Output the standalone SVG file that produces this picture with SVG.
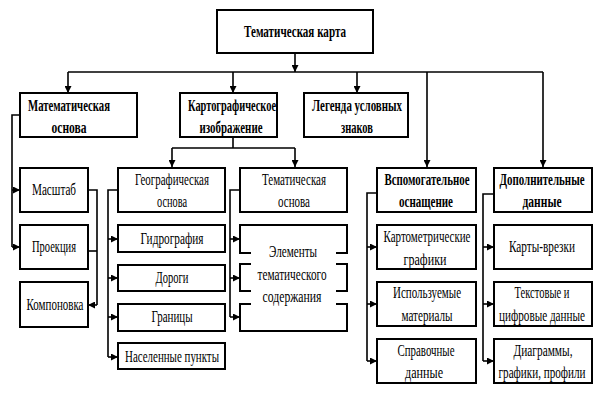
<svg xmlns="http://www.w3.org/2000/svg" width="601" height="404" viewBox="0 0 601 404">
<style>
.box{fill:#fff;stroke:#000;stroke-width:2}
.ln{fill:none;stroke:#000;stroke-width:1.6}
.arr{fill:none;stroke:#000;stroke-width:1.6;marker-end:url(#ah)}
text{font-family:"Liberation Serif","DejaVu Serif",serif;font-size:17px;fill:#000;text-anchor:middle}
.b{font-weight:bold}
</style>
<defs>
<marker id="ah" viewBox="0 0 10 10" refX="10" refY="5" markerWidth="8" markerHeight="7" markerUnits="userSpaceOnUse" orient="auto">
<path d="M0,0 L10,5 L0,10 z" fill="#000"/>
</marker>
</defs>
<rect width="601" height="404" fill="#fff"/>
<g id="connectors">
<path class="arr" d="M295,53 V72"/>
<path class="ln" d="M68,72 H543"/>
<path class="arr" d="M68,72 V93"/>
<path class="arr" d="M233,72 V93"/>
<path class="arr" d="M357,72 V93"/>
<path class="arr" d="M427,72 V167"/>
<path class="arr" d="M543,72 V167"/>
<path class="ln" d="M20,115 H12 V247"/>
<path class="arr" d="M12,190 H20"/>
<path class="arr" d="M12,247 H20"/>
<path class="ln" d="M88,190 H97 V305"/>
<path class="ln" d="M88,251 H97"/>
<path class="arr" d="M97,305 H88"/>
<path class="ln" d="M233,137 V148 M172,148 H295"/>
<path class="arr" d="M172,148 V167"/>
<path class="arr" d="M295,148 V167"/>
<path class="ln" d="M118,190 H108 V357"/>
<path class="arr" d="M108,239 H118"/>
<path class="arr" d="M108,278 H118"/>
<path class="arr" d="M108,317 H118"/>
<path class="arr" d="M108,357 H118"/>
<path class="ln" d="M240,190 H230 V317"/>
<path class="arr" d="M230,239 H240"/>
<path class="arr" d="M230,278 H240"/>
<path class="arr" d="M230,317 H240"/>
<path class="ln" d="M377,193 H367 V361"/>
<path class="arr" d="M367,247 H377"/>
<path class="arr" d="M367,304 H377"/>
<path class="arr" d="M367,361 H377"/>
<path class="ln" d="M494,194 H483 V361"/>
<path class="arr" d="M483,247 H494"/>
<path class="arr" d="M483,304 H494"/>
<path class="arr" d="M483,361 H494"/>
</g>
<g id="n-top"><rect class="box" x="217" y="10" width="156" height="43"/><text class="b" transform="matrix(0.68,0,0,1,295,37)" textLength="150" lengthAdjust="spacingAndGlyphs">Тематическая карта</text></g>
<g id="n-math"><rect class="box" x="20" y="93" width="117" height="44"/><text class="b" transform="matrix(0.68,0,0,1,69,111)" textLength="120.6" lengthAdjust="spacingAndGlyphs">Математическая</text><text class="b" transform="matrix(0.68,0,0,1,69,133)" textLength="51.5" lengthAdjust="spacingAndGlyphs">основа</text></g>
<g id="n-kart"><rect class="box" x="180" y="93" width="97" height="44"/><text class="b" transform="matrix(0.68,0,0,1,232,111)" textLength="129.4" lengthAdjust="spacingAndGlyphs">Картографическое</text><text class="b" transform="matrix(0.68,0,0,1,231,133)" textLength="92.6" lengthAdjust="spacingAndGlyphs">изображение</text></g>
<g id="n-leg"><rect class="box" x="304" y="93" width="104" height="44"/><text class="b" transform="matrix(0.68,0,0,1,357,111)" textLength="132.4" lengthAdjust="spacingAndGlyphs">Легенда условных</text><text class="b" transform="matrix(0.68,0,0,1,357,133)" textLength="47" lengthAdjust="spacingAndGlyphs">знаков</text></g>
<g id="n-masht"><rect class="box" x="20" y="168" width="68" height="44"/><text transform="matrix(0.68,0,0,1,54,195)" textLength="64.7" lengthAdjust="spacingAndGlyphs">Масштаб</text></g>
<g id="n-proek"><rect class="box" x="20" y="225" width="68" height="44"/><text transform="matrix(0.68,0,0,1,54,252)" textLength="64.7" lengthAdjust="spacingAndGlyphs">Проекция</text></g>
<g id="n-komp"><rect class="box" x="20" y="282" width="68" height="45"/><text transform="matrix(0.68,0,0,1,55,310)" textLength="83.8" lengthAdjust="spacingAndGlyphs">Компоновка</text></g>
<g id="n-geo"><rect class="box" x="118" y="168" width="107" height="44"/><text transform="matrix(0.68,0,0,1,172,185)" textLength="108.8" lengthAdjust="spacingAndGlyphs">Географическая</text><text transform="matrix(0.68,0,0,1,172,207)" textLength="44.1" lengthAdjust="spacingAndGlyphs">основа</text></g>
<g id="n-gidro"><rect class="box" x="118" y="225" width="107" height="27"/><text transform="matrix(0.68,0,0,1,172,244)" textLength="92.6" lengthAdjust="spacingAndGlyphs">Гидрография</text></g>
<g id="n-dorogi"><rect class="box" x="118" y="265" width="107" height="26"/><text transform="matrix(0.68,0,0,1,172,283)" textLength="48.5" lengthAdjust="spacingAndGlyphs">Дороги</text></g>
<g id="n-granicy"><rect class="box" x="118" y="304" width="107" height="27"/><text transform="matrix(0.68,0,0,1,172,322)" textLength="60.3" lengthAdjust="spacingAndGlyphs">Границы</text></g>
<g id="n-nasel"><rect class="box" x="118" y="343" width="107" height="26"/><text transform="matrix(0.68,0,0,1,172,362)" textLength="138.2" lengthAdjust="spacingAndGlyphs">Населенные пункты</text></g>
<g id="n-tem"><rect class="box" x="240" y="168" width="107" height="44"/><text transform="matrix(0.68,0,0,1,294,185)" textLength="94.1" lengthAdjust="spacingAndGlyphs">Тематическая</text><text transform="matrix(0.68,0,0,1,294,207)" textLength="47" lengthAdjust="spacingAndGlyphs">основа</text></g>
<g id="n-elem">
<rect class="box" x="240" y="225" width="107" height="28"/>
<rect class="box" x="240" y="264" width="107" height="27"/>
<rect class="box" x="240" y="304" width="107" height="27"/>
<rect x="251" y="252" width="85" height="53" fill="#fff"/>
<text transform="matrix(0.68,0,0,1,293,257)" textLength="70.6" lengthAdjust="spacingAndGlyphs">Элементы</text>
<text transform="matrix(0.68,0,0,1,292,280)" textLength="101.5" lengthAdjust="spacingAndGlyphs">тематического</text>
<text transform="matrix(0.68,0,0,1,292,302)" textLength="86.8" lengthAdjust="spacingAndGlyphs">содержания</text>
</g>
<g id="n-vsp"><rect class="box" x="377" y="168" width="99" height="44"/><text class="b" transform="matrix(0.68,0,0,1,427,185)" textLength="125" lengthAdjust="spacingAndGlyphs">Вспомогательное</text><text class="b" transform="matrix(0.68,0,0,1,426,207)" textLength="79.4" lengthAdjust="spacingAndGlyphs">оснащение</text></g>
<g id="n-kartom"><rect class="box" x="377" y="225" width="99" height="44"/><text transform="matrix(0.68,0,0,1,427,242)" textLength="127.9" lengthAdjust="spacingAndGlyphs">Картометрические</text><text transform="matrix(0.68,0,0,1,425,265)" textLength="63.2" lengthAdjust="spacingAndGlyphs">графики</text></g>
<g id="n-ispol"><rect class="box" x="377" y="282" width="99" height="44"/><text transform="matrix(0.68,0,0,1,427,298)" textLength="100" lengthAdjust="spacingAndGlyphs">Используемые</text><text transform="matrix(0.68,0,0,1,427,321)" textLength="75" lengthAdjust="spacingAndGlyphs">материалы</text></g>
<g id="n-sprav"><rect class="box" x="377" y="339" width="99" height="44"/><text transform="matrix(0.68,0,0,1,426,356)" textLength="83.8" lengthAdjust="spacingAndGlyphs">Справочные</text><text transform="matrix(0.68,0,0,1,424,378)" textLength="55.9" lengthAdjust="spacingAndGlyphs">данные</text></g>
<g id="n-dop"><rect class="box" x="494" y="168" width="98" height="44"/><text class="b" transform="matrix(0.68,0,0,1,542,185)" textLength="125" lengthAdjust="spacingAndGlyphs">Дополнительные</text><text class="b" transform="matrix(0.68,0,0,1,542,207)" textLength="57.4" lengthAdjust="spacingAndGlyphs">данные</text></g>
<g id="n-vrezki"><rect class="box" x="494" y="225" width="98" height="44"/><text transform="matrix(0.68,0,0,1,542,252)" textLength="97.1" lengthAdjust="spacingAndGlyphs">Карты-врезки</text></g>
<g id="n-tekst"><rect class="box" x="494" y="282" width="98" height="44"/><text transform="matrix(0.68,0,0,1,542,298)" textLength="80.9" lengthAdjust="spacingAndGlyphs">Текстовые и</text><text transform="matrix(0.68,0,0,1,542,321)" textLength="126.5" lengthAdjust="spacingAndGlyphs">цифровые данные</text></g>
<g id="n-diagr"><rect class="box" x="494" y="339" width="98" height="44"/><text transform="matrix(0.68,0,0,1,543,356)" textLength="86.8" lengthAdjust="spacingAndGlyphs">Диаграммы,</text><text transform="matrix(0.68,0,0,1,542,378)" textLength="127.9" lengthAdjust="spacingAndGlyphs">графики, профили</text></g>
</svg>
